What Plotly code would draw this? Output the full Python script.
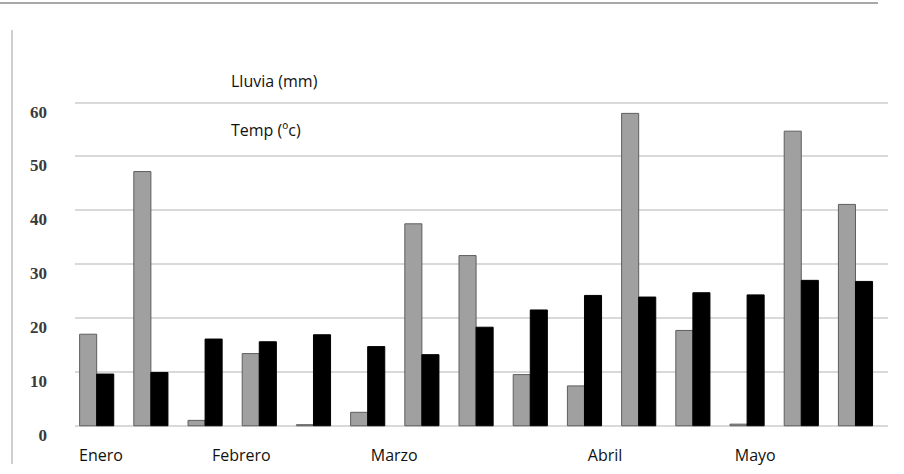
import plotly.graph_objects as go

# Data
groups = list(range(15))
lluvia_mm = [17.0, 47.2, 1.0, 13.4, 0.2, 2.5, 37.5, 31.6, 9.5, 7.4, 58.0, 17.7, 0.3, 54.7, 41.1]
temp_c = [9.6, 9.9, 16.1, 15.6, 16.9, 14.7, 13.2, 18.3, 21.5, 24.2, 23.9, 24.7, 24.3, 27.0, 26.8]
month_labels = ["Enero", "Febrero", "Marzo", "Abril", "Mayo"]
month_ticks = [0.08, 2.67, 5.49, 9.38, 12.15]
y_ticks = [0, 10, 20, 30, 40, 50, 60]

W, H = 904, 474
L, R, T, B = 75, 16, 101, 45
pw, ph = W - L - R, H - T - B
Y0, Y1 = -0.6, 60.3

def px(x):
    return (x - L) / pw

def py(y):
    return (H - B - y) / ph

fig = go.Figure()
fig.add_trace(go.Bar(
    x=groups, y=lluvia_mm, name="Lluvia (mm)",
    marker=dict(color="#a0a0a0", line=dict(color="#5e5e5e", width=1)),
))
fig.add_trace(go.Bar(
    x=groups, y=temp_c, name="Temp (ºc)",
    marker=dict(color="#000000", line=dict(color="#000000", width=1)),
))

fig.update_layout(
    width=W, height=H,
    margin=dict(l=L, r=R, t=T, b=B, autoexpand=False),
    paper_bgcolor="white", plot_bgcolor="white",
    barmode="group", bargap=0.37, bargroupgap=0.0,
    showlegend=False,
    xaxis=dict(
        range=[-0.4, 14.6], automargin=False,
        tickmode="array", tickvals=month_ticks, ticktext=month_labels,
        showgrid=False, zeroline=False, showline=False, ticks="",
        tickfont=dict(family="Open Sans", size=16, color="#111111"),
        ticklabelstandoff=15,
    ),
    yaxis=dict(
        range=[Y0, Y1], tickvals=y_ticks, automargin=False,
        showgrid=True, gridcolor="#d9d9d9", gridwidth=2,
        zeroline=False, showline=False, ticks="",
        tickfont=dict(family="Liberation Serif", size=17, color="#3a3a3a", weight="bold"),
        ticklabelstandoff=27, ticklabelshift=9,
    ),
    annotations=[
        dict(text="Lluvia (mm)", xref="paper", yref="paper", x=px(229), y=py(81),
             xanchor="left", yanchor="middle", showarrow=False,
             font=dict(family="Open Sans", size=16, color="#111111")),
        dict(text="Temp (ºc)", xref="paper", yref="paper", x=px(229), y=py(130),
             xanchor="left", yanchor="middle", showarrow=False,
             font=dict(family="Open Sans", size=16, color="#111111")),
    ],
    shapes=[
        dict(type="line", xref="paper", yref="paper", x0=px(12), x1=px(12), y0=py(30), y1=py(464),
             line=dict(color="#cfcfcf", width=2)),
        dict(type="line", xref="paper", yref="paper", x0=px(0), x1=px(878), y0=py(3), y1=py(3),
             line=dict(color="#a8a8a8", width=2)),
    ],
)

fig.write_html("out.html", config={"displayModeBar": False},
               post_script="document.body.style.margin='0';")
